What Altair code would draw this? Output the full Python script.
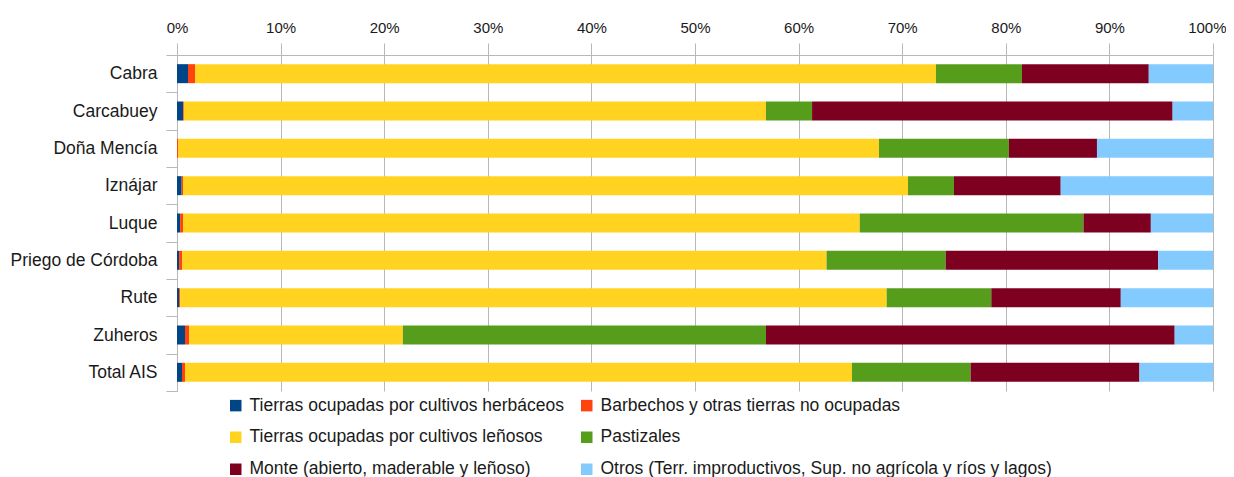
import altair as alt
import pandas as pd

municipios = ["Cabra", "Carcabuey", "Doña Mencía", "Iznájar", "Luque",
              "Priego de Córdoba", "Rute", "Zuheros", "Total AIS"]
series = [
    "Tierras ocupadas por cultivos herbáceos",
    "Barbechos y otras tierras no ocupadas",
    "Tierras ocupadas por cultivos leñosos",
    "Pastizales",
    "Monte (abierto, maderable y leñoso)",
    "Otros (Terr. improductivos, Sup. no agrícola y ríos y lagos)",
]
colores = ["#004586", "#ff420e", "#ffd320", "#579d1c", "#7e0021", "#83caff"]
ticks_x = [0, 0.1, 0.2, 0.3, 0.4, 0.5, 0.6, 0.7, 0.8, 0.9, 1.0]

herbaceos = [1.06, 0.58, 0.00, 0.45, 0.30, 0.20, 0.20, 0.77, 0.48]
barbechos = [0.68, 0.08, 0.10, 0.13, 0.28, 0.29, 0.10, 0.39, 0.29]
lenosos = [71.52, 56.19, 67.66, 69.98, 65.32, 62.21, 68.20, 20.64, 64.38]
pastizales = [8.30, 4.45, 12.54, 4.44, 21.60, 11.50, 10.10, 35.05, 11.45]
monte = [12.24, 34.80, 8.50, 10.30, 6.50, 20.50, 12.50, 39.45, 16.30]
otros = [6.20, 3.90, 11.20, 14.70, 6.00, 5.30, 8.90, 3.70, 7.10]

valores = [herbaceos, barbechos, lenosos, pastizales, monte, otros]
filas = []
for k, (nombre, serie) in enumerate(zip(series, valores)):
    for m, v in zip(municipios, serie):
        filas.append({"municipio": m, "serie": nombre, "valor": v, "orden": k})
df = pd.DataFrame(filas)

FONT = "Liberation Sans"
GRAY = "#b8b8b8"
TXT = "#1a1a1a"

chart = alt.Chart(df).mark_bar(size=19).encode(
    y=alt.Y(
        "municipio:N", sort=municipios, title=None,
        scale=alt.Scale(paddingInner=0, paddingOuter=0),
        axis=alt.Axis(
            tickBand="extent", tickSize=11, tickColor=GRAY, domainColor=GRAY,
            labelPadding=9, labelFontSize=17.5, labelFont=FONT, labelColor=TXT,
            grid=False, labelLimit=0,
        ),
    ),
    x=alt.X(
        "valor:Q", stack="normalize", title=None,
        scale=alt.Scale(domain=[0, 1], nice=False),
        axis=alt.Axis(
            orient="top", format=".0%", values=ticks_x,
            grid=True, gridColor=GRAY, tickColor=GRAY, domainColor=GRAY,
            tickSize=12, labelPadding=8, labelFontSize=15, labelFont=FONT,
            labelColor=TXT, labelFlush=False,
            labelAlign=alt.expr("datum.value >= 1 ? 'right' : 'center'"),
            labelOffset=alt.expr("datum.value >= 1 ? 13 : 0"),
        ),
    ),
    color=alt.Color(
        "serie:N", scale=alt.Scale(domain=series, range=colores),
        legend=alt.Legend(
            title=None, orient="none", legendX=50, legendY=341.5, columns=2,
            direction="horizontal",
            symbolType="square", symbolSize=132, symbolStrokeWidth=0,
            labelFontSize=17.5, labelFont=FONT, labelColor=TXT,
            rowPadding=13, columnPadding=13, labelOffset=5, labelLimit=0,
            padding=0,
        ),
    ),
    order=alt.Order("orden:Q"),
).properties(
    width=1036, height=336,
    autosize=alt.AutoSizeParams(type="none"),
    padding={"left": 169, "top": 47, "right": 13, "bottom": 86},
).configure_view(stroke=None)

chart.save("out.html", embed_options={"renderer": "svg", "actions": False})
